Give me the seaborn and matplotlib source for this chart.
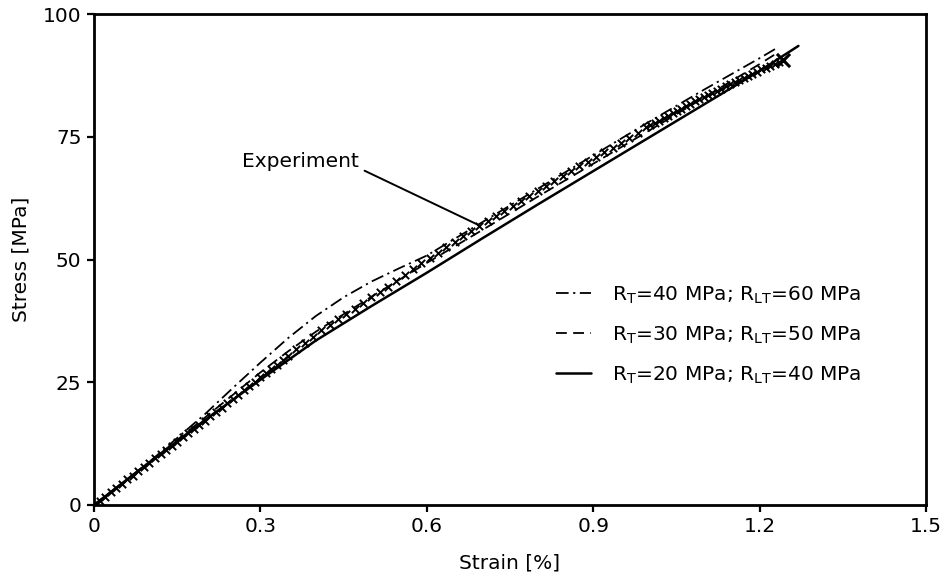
import numpy as np
import pandas as pd
import matplotlib
matplotlib.use("Agg")
import matplotlib.pyplot as plt
import seaborn as sns

# ---- data ----
exp_strain = [0.00, 0.01, 0.02, 0.03, 0.04, 0.05, 0.06, 0.07, 0.08, 0.09,
              0.10, 0.11, 0.12, 0.13, 0.14, 0.15, 0.16, 0.17, 0.18, 0.19,
              0.20, 0.21, 0.22, 0.23, 0.24, 0.25, 0.26, 0.27, 0.28, 0.29,
              0.30, 0.31, 0.32, 0.33, 0.34, 0.35,
              0.365, 0.380, 0.395, 0.410, 0.425, 0.440, 0.455, 0.470, 0.485, 0.500,
              0.515, 0.530, 0.545, 0.560, 0.575, 0.590, 0.605, 0.620, 0.635, 0.650,
              0.665, 0.680, 0.695, 0.710, 0.725, 0.740, 0.755, 0.770, 0.785, 0.800,
              0.815, 0.830, 0.845, 0.860, 0.875, 0.890, 0.905, 0.920, 0.935, 0.950,
              0.965, 0.980, 0.995,
              1.003, 1.011, 1.019, 1.027, 1.035, 1.043, 1.051, 1.059, 1.067, 1.075,
              1.083, 1.091, 1.099, 1.107, 1.115, 1.123, 1.131, 1.139, 1.147, 1.155,
              1.163, 1.171, 1.179, 1.187, 1.195, 1.203, 1.211, 1.219, 1.227, 1.235,
              1.243]
exp_stress = [0.0, 0.9, 1.7, 2.6, 3.4, 4.3, 5.2, 6.0, 6.9, 7.7,
              8.6, 9.5, 10.3, 11.2, 12.0, 12.9, 13.8, 14.6, 15.5, 16.3,
              17.2, 18.1, 19.0, 19.8, 20.7, 21.6, 22.5, 23.4, 24.2, 25.1,
              26.0, 26.9, 27.8, 28.6, 29.5, 30.4,
              31.7, 33.0, 34.3, 35.6, 36.7, 37.8, 38.9, 40.0, 41.2, 42.3,
              43.4, 44.5, 45.6, 46.8, 48.0, 49.2, 50.4, 51.4, 52.5, 53.6,
              54.7, 55.8, 56.8, 57.9, 58.9, 59.9, 60.9, 62.0, 63.0, 64.0,
              65.0, 66.0, 67.0, 68.0, 69.0, 69.9, 70.9, 71.9, 72.8, 73.8,
              74.8, 75.8, 76.9,
              77.4, 77.9, 78.3, 78.8, 79.3, 79.8, 80.3, 80.7, 81.2, 81.7,
              82.2, 82.7, 83.1, 83.6, 84.0, 84.4, 84.8, 85.3, 85.7, 86.1,
              86.5, 87.0, 87.4, 87.8, 88.2, 88.7, 89.1, 89.5, 89.9, 90.3,
              90.7]

r40_strain = [0, 0.1, 0.2, 0.25, 0.3, 0.35, 0.4, 0.45, 0.5, 0.55, 0.6, 0.7, 0.8, 0.9, 1.0, 1.1, 1.2, 1.23]
r40_stress = [0, 8.8, 18.5, 23.8, 29.0, 34.0, 38.5, 42.3, 45.5, 48.2, 50.8, 57.6, 64.4, 71.2, 78.0, 84.6, 91.0, 93.0]

r30_strain = [0, 0.1, 0.2, 0.3, 0.35, 0.4, 0.5, 0.6, 0.7, 0.8, 0.9, 1.0, 1.1, 1.2, 1.235]
r30_stress = [0, 8.7, 17.8, 27.0, 31.3, 35.3, 42.4, 49.3, 56.0, 62.8, 69.5, 76.2, 83.0, 89.8, 92.3]

r20_strain = [0, 0.1, 0.2, 0.3, 0.4, 0.5, 0.6, 0.7, 0.8, 0.9, 1.0, 1.1, 1.2, 1.27]
r20_stress = [0, 8.7, 17.3, 25.5, 33.5, 40.5, 47.3, 54.3, 61.2, 68.0, 74.8, 81.6, 88.4, 93.5]

labels = [r"R$_\mathregular{T}$=40 MPa; R$_\mathregular{LT}$=60 MPa",
          r"R$_\mathregular{T}$=30 MPa; R$_\mathregular{LT}$=50 MPa",
          r"R$_\mathregular{T}$=20 MPa; R$_\mathregular{LT}$=40 MPa"]
x_ticks = [0, 0.3, 0.6, 0.9, 1.2, 1.5]
x_ticklabels = ["0", "0.3", "0.6", "0.9", "1.2", "1.5"]
y_ticks = [0, 25, 50, 75, 100]

sns.set_theme(style="ticks")
plt.rcParams['font.family'] = ['DejaVu Sans']
plt.rcParams['mathtext.default'] = 'regular'
plt.rcParams['text.color'] = 'black'
plt.rcParams['axes.labelcolor'] = 'black'

FS = 14.5

fig = plt.figure(figsize=(9.44, 5.86), dpi=100)
ax = fig.add_axes([94/944, 1 - 505/586, 832/944, 491/586])

df_exp = pd.DataFrame({"strain": exp_strain, "stress": exp_stress})
sns.scatterplot(data=df_exp, x="strain", y="stress", marker="x", s=28,
                color="black", linewidth=1.4, ax=ax, legend=False, zorder=3)
sns.scatterplot(x=exp_strain[-1:], y=exp_stress[-1:], marker="x", s=90,
                color="black", linewidth=2.2, ax=ax, legend=False, zorder=3)

lw = 1.3
sns.lineplot(x=r40_strain, y=r40_stress, ax=ax, color="black", lw=lw,
             sort=False, label=labels[0], estimator=None)
sns.lineplot(x=r30_strain, y=r30_stress, ax=ax, color="black", lw=lw,
             sort=False, label=labels[1], estimator=None)
sns.lineplot(x=r20_strain, y=r20_stress, ax=ax, color="black", lw=1.8,
             sort=False, label=labels[2], estimator=None)
lines = ax.get_lines()
lines[0].set_dashes([7, 2.5, 1.2, 2.5])
lines[1].set_dashes([6, 3.5])

ax.set_xlim(0, 1.5)
ax.set_ylim(0, 100)
ax.set_xticks(x_ticks)
ax.set_xticklabels(x_ticklabels)
ax.set_yticks(y_ticks)
ax.tick_params(direction="out", length=5, width=1.6, labelsize=FS, colors="black", pad=4)
for s in ax.spines.values():
    s.set_linewidth(2.0)
    s.set_color("black")
ax.set_xlabel("Strain [%]", fontsize=FS, labelpad=12, color="black")
ax.set_ylabel("Stress [MPa]", fontsize=FS, labelpad=9, color="black")

leg = ax.legend(handles=lines[:3], labels=labels, loc="center left",
                bbox_to_anchor=(0.555, 0.346), frameon=False, fontsize=FS,
                handlelength=1.75, handletextpad=1.05, labelspacing=0.93,
                borderaxespad=0, borderpad=0, labelcolor="black")

ax.annotate("Experiment", xy=(0.69, 57.2), xytext=(0.372, 70),
            fontsize=FS, ha="center", va="center", color="black",
            arrowprops=dict(arrowstyle="-", color="black", lw=1.4,
                            shrinkA=2, shrinkB=0, relpos=(1.0, 0.15)))

fig.savefig("out.png", dpi=100, facecolor="white")
